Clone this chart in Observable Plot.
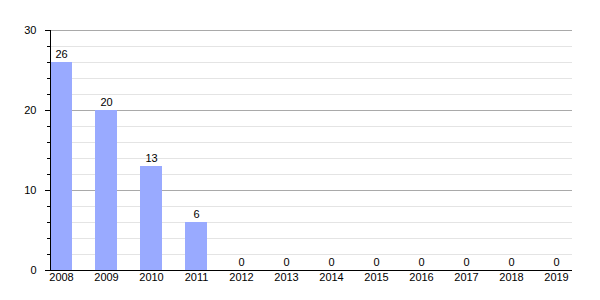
<!DOCTYPE html>
<html>
<head>
<meta charset="utf-8">
<script src="https://cdn.jsdelivr.net/npm/d3@7"></script>
<script src="https://cdn.jsdelivr.net/npm/@observablehq/plot@0.6"></script>
<style>
  html, body { margin: 0; padding: 0; background: #fff; }
  #chart svg { display: block; }
</style>
</head>
<body>
<div id="chart"></div>
<script>
const years = ["2008","2009","2010","2011","2012","2013","2014","2015","2016","2017","2018","2019"];
const values = [26, 20, 13, 6, 0, 0, 0, 0, 0, 0, 0, 0];
const majorTicks = [0, 10, 20, 30];
const minorTicks = [2, 4, 6, 8, 12, 14, 16, 18, 22, 24, 26, 28];

const data = years.map((year, i) => ({year, value: values[i]}));

const chart = Plot.plot({
  width: 600,
  height: 300,
  marginLeft: 50,
  marginRight: 28,
  marginTop: 30,
  marginBottom: 30,
  style: {fontFamily: "'Liberation Sans', Arial, sans-serif", fontSize: "11px", color: "#000", background: "#fff"},
  x: {domain: years, paddingInner: 0.52, paddingOuter: 0, align: 0, label: null},
  y: {domain: [0, 30], label: null},
  marks: [
    Plot.ruleY(minorTicks, {stroke: "#e4e4e4", strokeWidth: 1}),
    Plot.ruleY(majorTicks.slice(1), {stroke: "#a9a9a9", strokeWidth: 1}),
    Plot.barY(data, {x: "year", y: "value", fill: "#99aaff"}),
    Plot.text(data, {x: "year", y: "value", text: d => String(d.value), dy: -8, fill: "#000", fontSize: 11}),
    Plot.axisY({ticks: majorTicks, tickSize: 5, tickPadding: 9, label: null, stroke: "#000"}),
    Plot.axisY({ticks: minorTicks, tickSize: 3, tickFormat: () => "", label: null, stroke: "#000"}),
    Plot.frame({anchor: "left", stroke: "#000"}),
    Plot.ruleY([0], {stroke: "#000"}),
    Plot.axisX({tickSize: 0, tickPadding: 3, label: null})
  ]
});
document.getElementById("chart").append(chart);
</script>
</body>
</html>
